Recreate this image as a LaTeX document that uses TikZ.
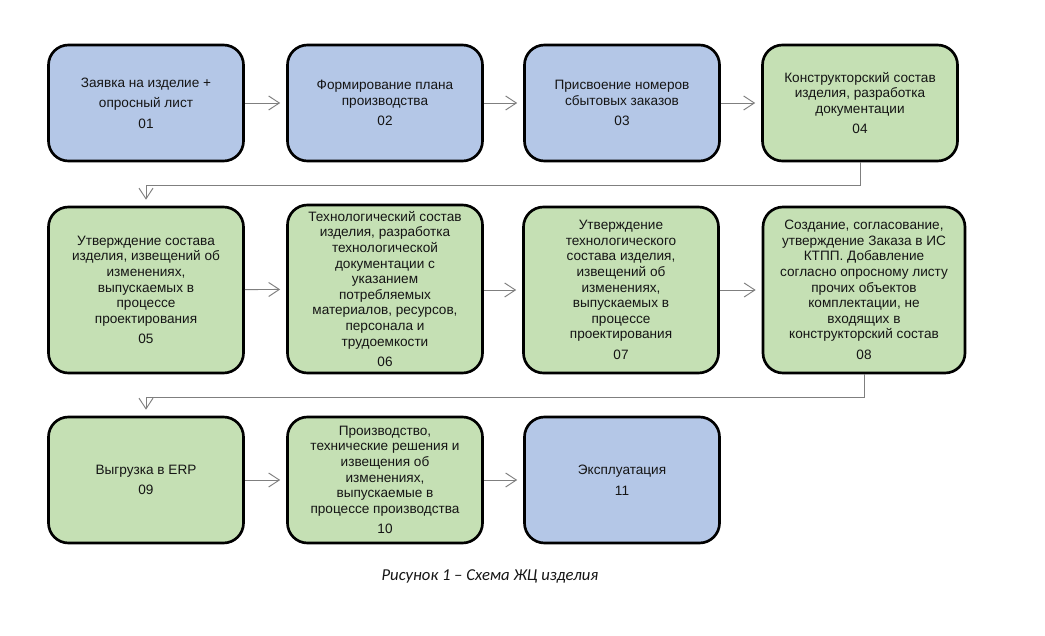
\documentclass[tikz,border=0pt]{standalone}
\usepackage{fontspec}
\setmainfont{Liberation Sans}
\newfontfamily\capfont{Carlito}
\usetikzlibrary{arrows.meta}
\definecolor{boxblue}{HTML}{B4C7E7}
\definecolor{boxgreen}{HTML}{C5E0B4}
\definecolor{txtcol}{HTML}{151515}
\definecolor{conncol}{HTML}{7F7F7F}
\newcommand{\numgap}{\\[3.75pt]}
\begin{document}
\begin{tikzpicture}[x=0.75pt,y=-0.75pt,
  stage/.style={draw=black, line width=2pt, rounded corners=15pt, align=center,
    inner sep=0pt, text=txtcol, font=\fontsize{10.2pt}{11.7pt}\selectfont,
    minimum width=146.25pt},
  bluebox/.style={stage, fill=boxblue},
  greenbox/.style={stage, fill=boxgreen},
  rowa/.style={minimum height=87pt},
  rowb/.style={minimum height=124.5pt},
  rowc/.style={minimum height=94.5pt},
  flow/.style={draw=conncol, line width=0.7pt,
    -{Straight Barb[length=8pt,width=10.5pt]}, shorten >=4.5pt}
]
\useasboundingbox (0,0) rectangle (1045,635);
\fill[white] (0,0) rectangle (1045,635);

% row 1
\node[bluebox, rowa] (n01) at (146,103) {Заявка на изделие +\numgap опросный лист\numgap 01};
\node[bluebox, rowa] (n02) at (385,103) {Формирование плана\\производства\numgap 02};
\node[bluebox, rowa] (n03) at (622,103) {Присвоение номеров\\сбытовых заказов\numgap 03};
\node[greenbox, rowa] (n04) at (860,103) {Конструкторский состав\\изделия, разработка\\документации\numgap 04};

% row 2
\node[greenbox, rowb] (n05) at (146,290) {Утверждение состава\\изделия, извещений об\\изменениях,\\выпускаемых в\\процессе\\проектирования\numgap 05};
\node[greenbox, rowb, minimum height=126pt] (n06) at (385,289) {Технологический состав\\изделия, разработка\\технологической\\документации с\\указанием\\потребляемых\\материалов, ресурсов,\\персонала и\\трудоемкости\numgap 06};
\node[greenbox, rowb] (n07) at (621,290) {Утверждение\\технологического\\состава изделия,\\извещений об\\изменениях,\\выпускаемых в\\процессе\\проектирования\numgap 07};
\node[greenbox, rowb, minimum width=151.5pt] (n08) at (864,290) {Создание, согласование,\\утверждение Заказа в ИС\\КТПП. Добавление\\согласно опросному листу\\прочих объектов\\комплектации, не\\входящих в\\конструкторский состав\numgap 08};

% row 3
\node[greenbox, rowc] (n09) at (146,480) {Выгрузка в ERP\numgap 09};
\node[greenbox, rowc] (n10) at (385,480) {Производство,\\технические решения и\\извещения об\\изменениях,\\выпускаемые в\\процессе производства\numgap 10};
\node[bluebox, rowc] (n11) at (622,480) {Эксплуатация\numgap 11};

% connectors
\draw[flow] (n01) -- (n02);
\draw[flow] (n02) -- (n03);
\draw[flow] (n03) -- (n04);
\draw[flow] (n04.south) -- ++(0,23) -| (n05.north);
\draw[flow] (n05) -- (n06);
\draw[flow] (n06.east |- n07.west) -- (n07.west);
\draw[flow] (n07) -- (n08);
\draw[flow] (n08.south) -- ++(0,23) -| (n09.north);
\draw[flow] (n09) -- (n10);
\draw[flow] (n10) -- (n11);

% caption
\node[font=\capfont\itshape\fontsize{12.5pt}{15pt}\selectfont, text=txtcol, inner sep=0pt] (cap) at (490,576) {Рисунок 1 – Схема ЖЦ изделия};
\end{tikzpicture}
\end{document}
